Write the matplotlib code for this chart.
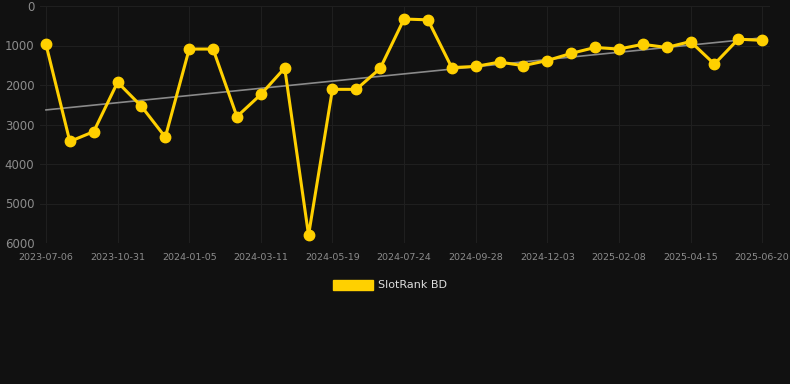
import matplotlib
matplotlib.use("Agg")
import matplotlib.pyplot as plt
from matplotlib.patches import Patch
import numpy as np

# rank values (lower is better), one per sample, y axis is inverted
rank_values = [970, 3430, 3180, 1930, 2540, 3320, 1090, 1090, 2800, 2240,
               1570, 5800, 2110, 2110, 1580, 330, 350, 1560, 1530, 1420,
               1510, 1380, 1200, 1050, 1090, 970, 1050, 900, 1470, 840, 870]
tick_labels = ['2023-07-06', '2023-10-31', '2024-01-05', '2024-03-11',
               '2024-05-19', '2024-07-24', '2024-09-28', '2024-12-03',
               '2025-02-08', '2025-04-15', '2025-06-20']
series_name = 'SlotRank BD'

bg = '#111111'
gold = '#FFD000'

x = np.arange(len(rank_values))
y = np.array(rank_values)

fig = plt.figure(figsize=(7.9, 3.84), dpi=100, facecolor=bg)
ax = fig.add_axes([40 / 790, 1 - 243 / 384, 730 / 790, 237 / 384])
ax.set_facecolor(bg)

# trend line (least squares)
k, b = np.polyfit(x, y, 1)
ax.plot(x, k * x + b, color='#8a8a8a', lw=1.2, zorder=2)

ax.plot(x, y, color=gold, lw=2.2, marker='o', markersize=7.5,
        markerfacecolor=gold, markeredgecolor=gold, zorder=3)

ax.set_ylim(6000, 0)
ax.set_yticks(range(0, 6001, 1000))
ax.set_xlim(-0.25, 30.33)
ax.set_xticks(x[::3])
ax.set_xticklabels(tick_labels)

ax.grid(True, color='#1f1f1f', lw=0.8)
ax.set_axisbelow(True)
for s in ax.spines.values():
    s.set_visible(False)
ax.tick_params(axis='y', length=0, colors='#8c8c8c', labelsize=8.5, pad=4)
ax.tick_params(axis='x', length=0, colors='#8c8c8c', labelsize=6.8, pad=7)

handle = Patch(facecolor=gold, edgecolor=gold)
fig.legend([handle], [series_name], loc='center', bbox_to_anchor=(390 / 790, 1 - 285 / 384),
           frameon=False, fontsize=8, labelcolor='#dddddd', handlelength=3.6,
           handleheight=1.0, handletextpad=0.5)

fig.savefig('out.png', dpi=100, facecolor=bg)
